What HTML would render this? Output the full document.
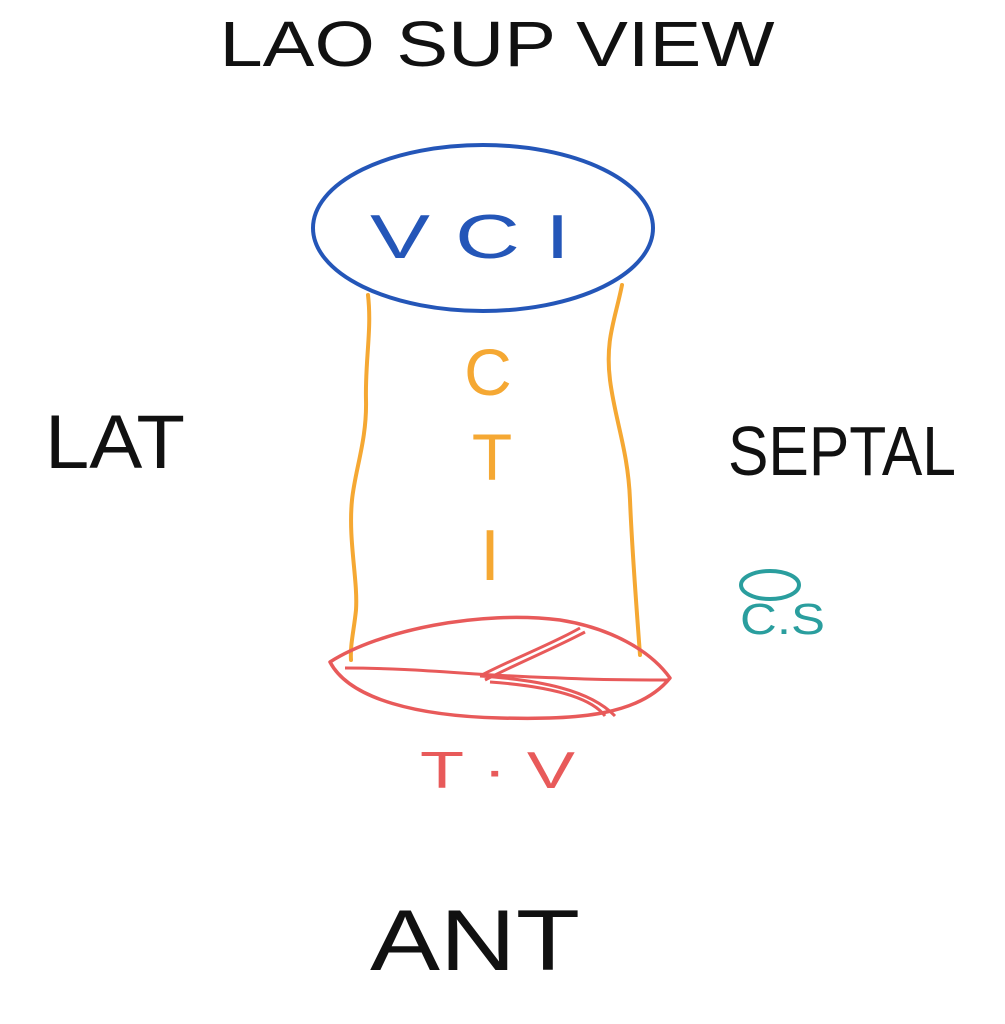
<!DOCTYPE html>
<html><head><meta charset="utf-8"><style>
html,body{margin:0;padding:0;background:#fff;}
svg{display:block}
text{font-family:"Liberation Sans",sans-serif;}
</style></head><body>
<svg width="1005" height="1024" viewBox="0 0 1005 1024" xmlns="http://www.w3.org/2000/svg">
<rect width="1005" height="1024" fill="#fff"/>
<!-- title -->
<text x="497" y="66" font-size="64" text-anchor="middle" fill="#111" textLength="555" lengthAdjust="spacingAndGlyphs">LAO SUP VIEW</text>
<!-- VCI ellipse -->
<ellipse cx="483" cy="228" rx="170" ry="83" fill="none" stroke="#2456b8" stroke-width="4"/>
<text x="470" y="258" font-size="62" text-anchor="middle" fill="#2456b8" textLength="200" lengthAdjust="spacingAndGlyphs">V C I</text>
<!-- orange walls -->
<path d="M368 295 C372 330 365 360 366 400 C367 440 355 470 352 500 C348 540 358 580 356 610 C354 630 350 645 351 660" fill="none" stroke="#f5a833" stroke-width="4" stroke-linecap="round"/>
<path d="M622 285 C615 320 605 340 610 380 C615 420 628 450 630 500 C632 550 636 600 640 655" fill="none" stroke="#f5a833" stroke-width="4" stroke-linecap="round"/>
<!-- CTTI -->
<text x="488" y="395" font-size="66" text-anchor="middle" fill="#f5a833">C</text>
<text x="492" y="480" font-size="66" text-anchor="middle" fill="#f5a833">T</text>
<text x="490" y="580" font-size="72" text-anchor="middle" fill="#f5a833">I</text>
<!-- sides -->
<text x="45" y="468" font-size="76" fill="#111" textLength="140" lengthAdjust="spacingAndGlyphs">LAT</text>
<text x="728" y="475" font-size="70" fill="#111" textLength="228" lengthAdjust="spacingAndGlyphs">SEPTAL</text>
<text x="370" y="970" font-size="86" fill="#111" textLength="210" lengthAdjust="spacingAndGlyphs">ANT</text>
<!-- CS -->
<ellipse cx="770" cy="585" rx="29" ry="14" fill="none" stroke="#2a9e9e" stroke-width="4"/>
<text x="740" y="634" font-size="44" fill="#2a9e9e" textLength="85" lengthAdjust="spacingAndGlyphs">C.S</text>
<!-- TV -->
<path d="M330 662 C380 630 480 610 560 620 C610 628 650 650 670 678 C640 715 580 720 500 718 C420 716 350 700 330 662 Z" fill="none" stroke="#e85a5a" stroke-width="3.5" stroke-linejoin="round"/>
<path d="M345 668 C420 668 480 676 560 678 C600 680 640 680 668 680" fill="none" stroke="#e85a5a" stroke-width="3"/>
<path d="M480 676 C510 660 550 645 580 628" fill="none" stroke="#e85a5a" stroke-width="3"/>
<path d="M485 680 C520 662 555 648 585 632" fill="none" stroke="#e85a5a" stroke-width="3"/>
<path d="M480 676 C540 680 590 690 615 716" fill="none" stroke="#e85a5a" stroke-width="3"/>
<path d="M490 682 C545 686 590 696 605 716" fill="none" stroke="#e85a5a" stroke-width="3"/>
<text x="420" y="788" font-size="52" fill="#e85a5a" textLength="155" lengthAdjust="spacingAndGlyphs">T · V</text>
</svg>
</body></html>
